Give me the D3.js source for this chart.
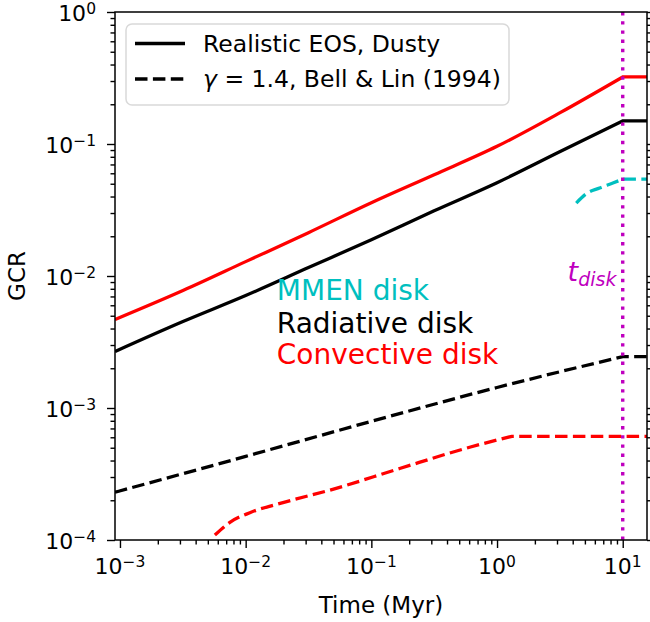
<!DOCTYPE html>
<html>
<head>
<meta charset="utf-8">
<script src="https://cdn.jsdelivr.net/npm/d3@7"></script>
<style>
    body { margin: 0; background: #fff; }
    svg { font-family: "DejaVu Sans", sans-serif; }
</style>
</head>
<body>
<svg id="graph"></svg>
<script>
// time axis (Myr) and GCR values
const solidTime = [9.13e-4, 3.17e-3, 0.01, 0.0316, 0.1, 0.316, 1, 3.15, 10, 15.6];
const convectiveSolid = [4.68e-3, 7.76e-3, 1.285e-2, 2.13e-2, 3.59e-2, 5.85e-2, 9.6e-2, 0.172, 0.322, 0.322];
const radiativeSolid = [2.68e-3, 4.52e-3, 7.11e-3, 1.158e-2, 1.885e-2, 3.12e-2, 5.09e-2, 8.73e-2, 0.1498, 0.1498];

const radiativeDashTime = [9.13e-4, 0.01, 0.1, 1, 10, 15.6];
const radiativeDash = [2.30e-4, 4.30e-4, 7.92e-4, 1.43e-3, 2.45e-3, 2.45e-3];

const convectiveDashTime = [5.69e-3, 7.49e-3, 1.08e-2, 1.98e-2, 4.93e-2, 0.168, 0.605, 1.31, 15.6];
const convectiveDash = [1.09e-4, 1.36e-4, 1.61e-4, 1.92e-4, 2.42e-4, 3.48e-4, 5.04e-4, 6.10e-4, 6.10e-4];

const mmenDashTime = [4.27, 5.13, 6.54, 8.35, 10, 15.6];
const mmenDash = [0.0357, 0.0420, 0.0464, 0.0506, 0.0542, 0.0542];

const tDisk = 10;
const xDomain = [9.13e-4, 15.6];
const yDomain = [1e-4, 1];
const xMajor = [1e-3, 1e-2, 1e-1, 1, 10];
const yMajor = [1e-4, 1e-3, 1e-2, 1e-1, 1];
const xTickExp = ["\u22123", "\u22122", "\u22121", "0", "1"];
const yTickExp = ["\u22124", "\u22123", "\u22122", "\u22121", "0"];

const props = {
    width: 650, height: 622,
    margins: {left: 115, top: 12, right: 3, bottom: 82},
    colors: {red: "#ff0000", black: "#000000", cyan: "#00bfbf", magenta: "#bf00bf"},
    lineWidth: 3.3,
    dash: "12.5,5.4"
};

let graph, xScale, yScale;

function initGraph() {
    graph = d3.select("#graph")
        .attr("width", props.width)
        .attr("height", props.height);
}

function initScales() {
    xScale = d3.scaleLog().domain(xDomain)
        .range([props.margins.left, props.width - props.margins.right]);
    yScale = d3.scaleLog().domain(yDomain)
        .range([props.height - props.margins.bottom, props.margins.top]);
}

function minorTicks(domain) {
    let out = [];
    for (let e = -5; e <= 2; e++) {
        for (let m = 2; m <= 9; m++) {
            let v = m * Math.pow(10, e);
            if (v >= domain[0] && v <= domain[1]) out.push(v);
        }
    }
    return out;
}

function appendAxes() {
    let bottom = props.height - props.margins.bottom;
    let right = props.width - props.margins.right;

    // minor ticks
    graph.append("g")
        .attr("transform", "translate(0," + bottom + ")")
        .call(d3.axisBottom(xScale).tickValues(minorTicks(xDomain)).tickSize(4.5).tickFormat(""));
    graph.append("g")
        .attr("transform", "translate(" + props.margins.left + ",0)")
        .call(d3.axisLeft(yScale).tickValues(minorTicks(yDomain)).tickSize(4.5).tickFormat(""));
    graph.append("g")
        .attr("transform", "translate(" + right + ",0)")
        .call(d3.axisRight(yScale).tickValues(minorTicks(yDomain)).tickSize(4.5).tickFormat(""));

    // major ticks
    graph.append("g")
        .attr("transform", "translate(0," + bottom + ")")
        .call(d3.axisBottom(xScale).tickValues(xMajor).tickSize(8).tickFormat(""));
    graph.append("g")
        .attr("transform", "translate(" + props.margins.left + ",0)")
        .call(d3.axisLeft(yScale).tickValues(yMajor).tickSize(8).tickFormat(""));
    graph.append("g")
        .attr("transform", "translate(" + right + ",0)")
        .call(d3.axisRight(yScale).tickValues(yMajor).tickSize(8).tickFormat(""));

    graph.selectAll(".domain").remove();
    graph.selectAll(".tick line").attr("stroke", "#000").attr("stroke-width", 1.4);

    // frame
    graph.append("rect")
        .attr("x", props.margins.left).attr("y", props.margins.top)
        .attr("width", right - props.margins.left)
        .attr("height", bottom - props.margins.top)
        .attr("fill", "none").attr("stroke", "#000").attr("stroke-width", 1.5);

    // tick labels 10^n
    xMajor.forEach(function(v, i) {
        let t = graph.append("text")
            .attr("x", xScale(v)).attr("y", bottom + 34)
            .attr("text-anchor", "middle")
            .style("font-size", "22px");
        t.append("tspan").text("10");
        t.append("tspan").attr("dy", "-0.42em").style("font-size", "15.5px").text(xTickExp[i]);
    });
    yMajor.forEach(function(v, i) {
        let t = graph.append("text")
            .attr("x", props.margins.left - 19).attr("y", yScale(v) + 8.5)
            .attr("text-anchor", "end")
            .style("font-size", "22px");
        t.append("tspan").text("10");
        t.append("tspan").attr("dy", "-0.42em").style("font-size", "15.5px").text(yTickExp[i]);
    });
}

function appendLabels() {
    graph.append("text")
        .attr("x", (props.margins.left + props.width - props.margins.right) / 2)
        .attr("y", 613)
        .attr("text-anchor", "middle")
        .style("font-size", "23px")
        .text("Time (Myr)");

    graph.append("text")
        .attr("transform", "translate(25," + ((props.margins.top + props.height - props.margins.bottom) / 2) + ") rotate(-90)")
        .attr("text-anchor", "middle")
        .style("font-size", "23px")
        .text("GCR");

    let notes = [
        {text: "MMEN disk", color: props.colors.cyan, y: 6.56e-3},
        {text: "Radiative disk", color: props.colors.black, y: 3.71e-3},
        {text: "Convective disk", color: props.colors.red, y: 2.14e-3}
    ];
    notes.forEach(function(d) {
        graph.append("text")
            .attr("x", xScale(0.0177)).attr("y", yScale(d.y))
            .attr("fill", d.color)
            .style("font-size", "28px")
            .text(d.text);
    });

    let td = graph.append("text")
        .attr("x", xScale(3.64)).attr("y", yScale(9.12e-3))
        .attr("fill", props.colors.magenta)
        .style("font-style", "italic")
        .style("font-size", "27px");
    td.append("tspan").text("t");
    td.append("tspan").attr("dy", 5).style("font-size", "19px").text("disk");
}

function appendLines() {
    let curve = d3.line()
        .x(function(d) { return xScale(d[0]); })
        .y(function(d) { return yScale(d[1]); })
        .curve(d3.curveMonotoneX);

    // smooth rising part, then a straight run to the plateau end
    function pathFor(times, values) {
        let pts = values.map(function(v, i) { return [times[i], v]; });
        let last = pts[pts.length - 1];
        return curve(pts.slice(0, -1)) + "L" + xScale(last[0]) + "," + yScale(last[1]);
    }

    let series = [
        {d: pathFor(solidTime, convectiveSolid), color: props.colors.red, dash: null},
        {d: pathFor(solidTime, radiativeSolid), color: props.colors.black, dash: null},
        {d: pathFor(mmenDashTime, mmenDash), color: props.colors.cyan, dash: props.dash},
        {d: pathFor(radiativeDashTime, radiativeDash), color: props.colors.black, dash: props.dash},
        {d: pathFor(convectiveDashTime, convectiveDash), color: props.colors.red, dash: props.dash}
    ];

    graph.append("clipPath").attr("id", "clip")
        .append("rect")
        .attr("x", props.margins.left).attr("y", props.margins.top)
        .attr("width", props.width - props.margins.right - props.margins.left)
        .attr("height", props.height - props.margins.bottom - props.margins.top);

    let g = graph.append("g").attr("clip-path", "url(#clip)");
    series.forEach(function(s) {
        g.append("path")
            .attr("d", s.d)
            .attr("fill", "none")
            .attr("stroke", s.color)
            .attr("stroke-width", props.lineWidth)
            .attr("stroke-dasharray", s.dash);
    });

    g.append("line")
        .attr("x1", xScale(tDisk)).attr("x2", xScale(tDisk))
        .attr("y1", yScale(yDomain[1])).attr("y2", yScale(yDomain[0]))
        .attr("stroke", props.colors.magenta)
        .attr("stroke-width", 3.4)
        .attr("stroke-dasharray", "3.4,5.8");
}

function appendLegend() {
    let lg = graph.append("g");
    lg.append("rect")
        .attr("x", 126).attr("y", 24)
        .attr("width", 383).attr("height", 81)
        .attr("rx", 6)
        .attr("fill", "#fff").attr("fill-opacity", 0.8)
        .attr("stroke", "#d9d9d9").attr("stroke-width", 1.5);

    let items = [
        {dash: null, y: 43.5},
        {dash: props.dash, y: 79}
    ];
    items.forEach(function(d) {
        lg.append("line")
            .attr("x1", 135).attr("x2", 185)
            .attr("y1", d.y).attr("y2", d.y)
            .attr("stroke", "#000").attr("stroke-width", props.lineWidth)
            .attr("stroke-dasharray", d.dash);
    });
    lg.append("text").attr("x", 203).attr("y", 52)
        .style("font-size", "23.5px")
        .text("Realistic EOS, Dusty");
    let t2 = lg.append("text").attr("x", 203).attr("y", 87)
        .style("font-size", "23.5px");
    t2.append("tspan").style("font-style", "italic").text("\u03b3");
    t2.append("tspan").text(" = 1.4, Bell & Lin (1994)");
}

initGraph();
initScales();
appendLines();
appendAxes();
appendLegend();
appendLabels();
</script>
</body>
</html>
